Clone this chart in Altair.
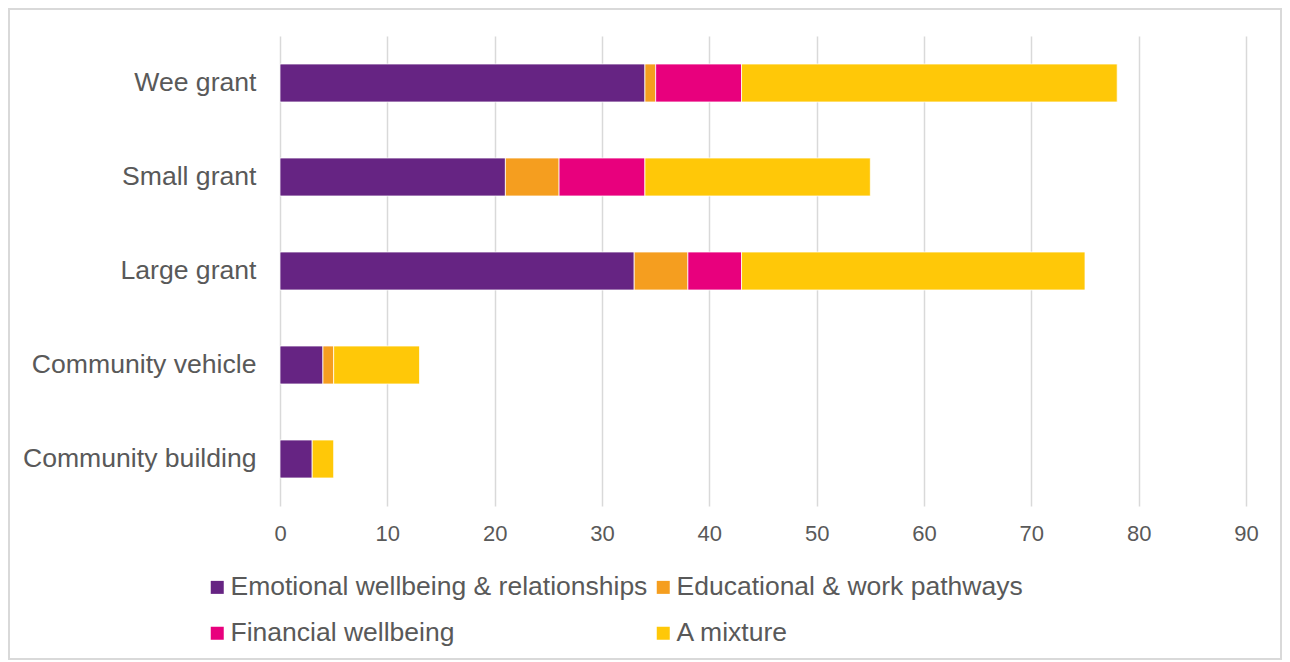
import altair as alt
import pandas as pd

categories = ["Wee grant", "Small grant", "Large grant", "Community vehicle", "Community building"]
series = ["Emotional wellbeing & relationships", "Educational & work pathways",
          "Financial wellbeing", "A mixture"]
colors = ["#662483", "#F59E1F", "#E8007D", "#FFC808"]

emotional = [34, 21, 33, 4, 3]
educational = [1, 5, 5, 1, 0]
financial = [8, 8, 5, 0, 0]
mixture = [35, 21, 32, 8, 2]

rows = []
for i, c in enumerate(categories):
    for j, (s, vals) in enumerate(zip(series, [emotional, educational, financial, mixture])):
        if vals[i] > 0:
            rows.append({"category": c, "series": s, "value": vals[i], "order": j})
df = pd.DataFrame(rows)

FONT = "Liberation Sans"
TXT = "#595959"

bars = alt.Chart(df).mark_bar(stroke="white", strokeWidth=0.75).encode(
    x=alt.X("value:Q", stack="zero",
            scale=alt.Scale(domain=[0, 90], nice=False),
            axis=alt.Axis(values=list(range(0, 91, 10)), title=None, grid=True,
                          gridColor="#D9D9D9", gridWidth=1.5, domain=False, ticks=False,
                          labelFlush=False,
                          labelFontSize=22, labelColor=TXT, labelPadding=17, labelFont=FONT)),
    y=alt.Y("category:N", sort=categories,
            scale=alt.Scale(paddingInner=0.596, paddingOuter=0.298),
            axis=alt.Axis(title=None, domain=False, ticks=False, labelFontSize=26.6,
                          labelColor=TXT, labelPadding=24, labelFont=FONT, labelLimit=400)),
    color=alt.Color("series:N", scale=alt.Scale(domain=series, range=colors),
                    legend=alt.Legend(title=None, orient="none", legendX=-76, legendY=538,
                                      direction="horizontal", columns=2, symbolType="square",
                                      symbolSize=169, symbolStrokeWidth=0, labelFontSize=26.5,
                                      labelColor=TXT, labelFont=FONT, labelOffset=0,
                                      columnPadding=2, rowPadding=19, labelLimit=600,
                                      padding=0)),
    order=alt.Order("order:Q"),
)

border = alt.Chart(pd.DataFrame({"k": [0]})).mark_rect(
    fillOpacity=0, stroke="#D9D9D9", strokeWidth=2
).encode(
    x=alt.value(-271), x2=alt.value(1001), y=alt.value(-27), y2=alt.value(623)
)

chart = alt.layer(border, bars).properties(
    width=966, height=470,
    autosize=alt.AutoSizeParams(type="none"),
    padding={"left": 272, "top": 28, "right": 36, "bottom": 154},
    background="white",
).configure_view(stroke=None)

chart.save("out.html", embed_options={"renderer": "svg", "actions": False})
